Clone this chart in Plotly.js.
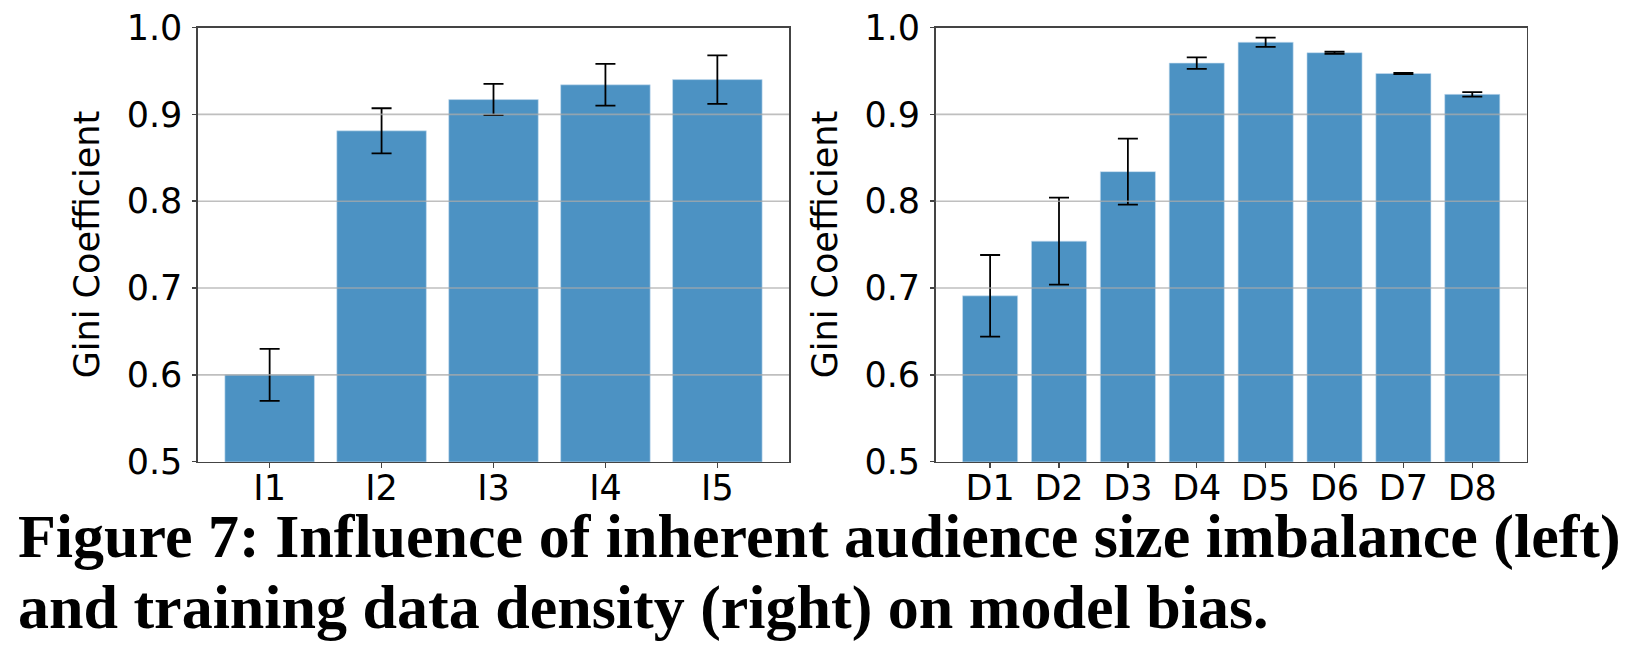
<!DOCTYPE html>
<html>
<head>
<meta charset="utf-8">
<script src="https://cdn.plot.ly/plotly-3.0.1.min.js"></script>
<style>
html,body{margin:0;padding:0;background:#fff;}
#chart{width:1625px;height:649px;}
</style>
</head>
<body>
<div id="chart"></div>
<script>
// Left panel: inherent audience size imbalance
const leftCategories = ["I1", "I2", "I3", "I4", "I5"];
const leftValues = [0.600, 0.881, 0.917, 0.934, 0.940];
const leftErrors = [0.030, 0.026, 0.018, 0.024, 0.028];

// Right panel: training data density
const rightCategories = ["D1", "D2", "D3", "D4", "D5", "D6", "D7", "D8"];
const rightValues = [0.691, 0.754, 0.834, 0.959, 0.983, 0.971, 0.947, 0.923];
const rightErrors = [0.047, 0.050, 0.038, 0.0067, 0.0054, 0.0012, 0.0006, 0.0025];

// Y axis ticks
const yTickVals = [0.5, 0.6, 0.7, 0.8, 0.9, 1.0];
const yTickText = ["0.5", "0.6", "0.7", "0.8", "0.9", "1.0"];
const gridVals = [0.6, 0.7, 0.8, 0.9];

const yTitle = "Gini Coefficient";
const captionLine1 = "Figure 7: Influence of inherent audience size imbalance (left)";
const captionLine2 = "and training data density (right) on model bias.";

const barColor = "#4c92c3";
const frameColor = "#444444";
const tickFont = {family: "DejaVu Sans", size: 35, color: "#000"};

function barTrace(cats, vals, errs, xa, ya) {
  return {
    type: "bar", x: cats, y: vals, xaxis: xa, yaxis: ya,
    marker: {color: barColor, line: {color: "rgba(200,222,240,0.6)", width: 1}},
    error_y: {type: "data", array: errs, visible: true, color: "#000", thickness: 1.8, width: 10},
    hoverinfo: "skip", showlegend: false
  };
}

function xAxis(domain, n, anchor) {
  const pad = 0.05 * (n - 0.2);
  return {
    domain: domain, anchor: anchor, type: "category",
    range: [-0.4 - pad, n - 0.6 + pad],
    showline: true, linecolor: frameColor, linewidth: 1.6, mirror: true,
    ticks: "outside", ticklen: 5, tickwidth: 1.4, tickcolor: frameColor,
    ticklabelstandoff: -10,
    tickfont: tickFont, showgrid: false, zeroline: false, fixedrange: true
  };
}

function yAxis(domain, anchor) {
  return {
    domain: domain, anchor: anchor, range: [0.5, 1.0],
    tickvals: yTickVals, ticktext: yTickText,
    showline: true, linecolor: frameColor, linewidth: 1.6, mirror: true,
    ticks: "outside", ticklen: 4, tickwidth: 1.4, tickcolor: frameColor,
    ticklabelstandoff: 3,
    tickfont: tickFont, showgrid: false, zeroline: false, fixedrange: true,
    title: {text: yTitle, font: {family: "DejaVu Sans", size: 35, color: "#000"}, standoff: 16}
  };
}

const W = 1625, H = 649;
const yDom = [1 - 461.7 / H, 1 - 27.5 / H];

const data = [
  barTrace(leftCategories, leftValues, leftErrors, "x", "y"),
  barTrace(rightCategories, rightValues, rightErrors, "x2", "y2")
];

const shapes = [];
gridVals.forEach(v => {
  shapes.push({type: "line", xref: "x domain", yref: "y", x0: 0, x1: 1, y0: v, y1: v,
    line: {color: "rgba(170,170,170,0.75)", width: 1.6}, layer: "above"});
  shapes.push({type: "line", xref: "x2 domain", yref: "y2", x0: 0, x1: 1, y0: v, y1: v,
    line: {color: "rgba(170,170,170,0.75)", width: 1.6}, layer: "above"});
});

const captionFont = {family: "Liberation Serif", size: 62, color: "#000", weight: 700};

const layout = {
  width: W, height: H,
  margin: {l: 0, r: 0, t: 0, b: 0},
  paper_bgcolor: "#fff", plot_bgcolor: "#fff",
  bargap: 0.2,
  showlegend: false,
  xaxis: xAxis([198 / W, 789 / W], leftCategories.length, "y"),
  yaxis: yAxis(yDom, "x"),
  xaxis2: xAxis([935.7 / W, 1526.7 / W], rightCategories.length, "y2"),
  yaxis2: yAxis(yDom, "x2"),
  shapes: shapes,
  annotations: [
    {text: "<b>" + captionLine1 + "</b>", xref: "paper", yref: "paper", x: 16 / W, y: 1 - 536 / H,
     xanchor: "left", yanchor: "middle", showarrow: false, font: captionFont},
    {text: "<b>" + captionLine2 + "</b>", xref: "paper", yref: "paper", x: 16 / W, y: 1 - 607 / H,
     xanchor: "left", yanchor: "middle", showarrow: false, font: captionFont}
  ]
};

Plotly.newPlot("chart", data, layout, {staticPlot: true, displayModeBar: false});
</script>
</body>
</html>
